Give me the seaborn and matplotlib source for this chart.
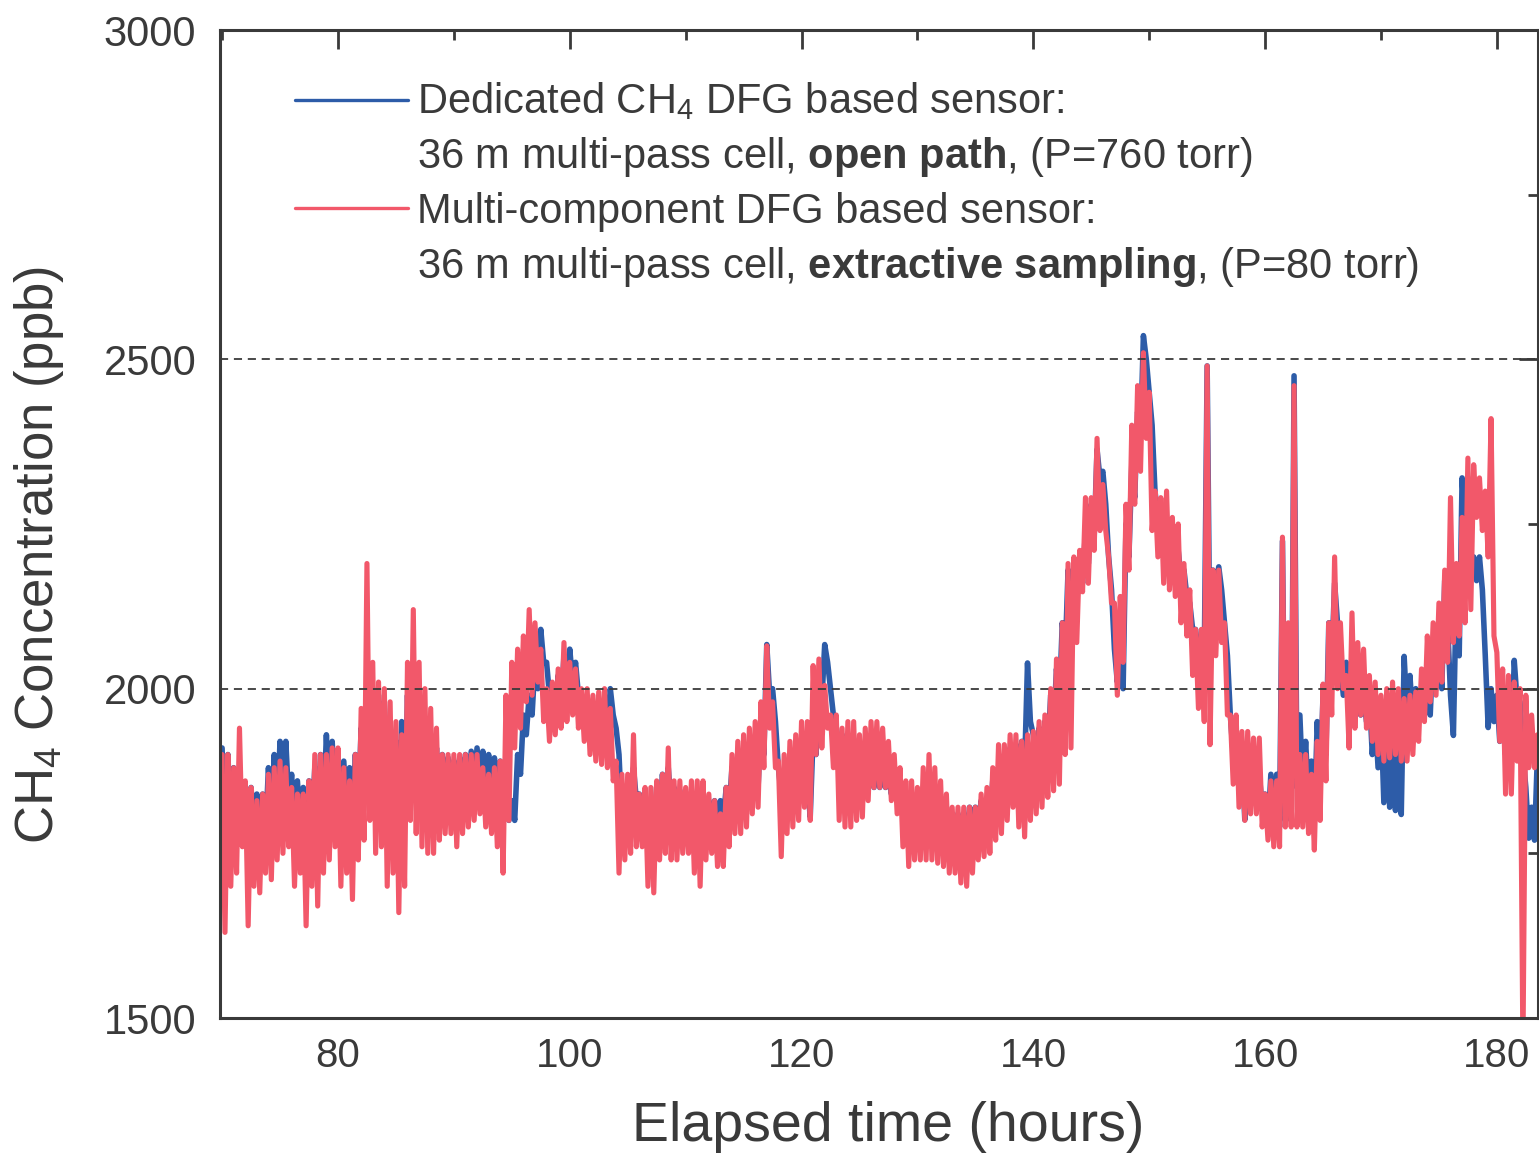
import matplotlib
matplotlib.use("Agg")
import matplotlib.pyplot as plt
from matplotlib.ticker import MultipleLocator
from matplotlib.lines import Line2D
import seaborn as sns
import pandas as pd

# Half-hour sampling slots, 70.0 h ... 183.5 h
hours = [70.0 + 0.5 * i for i in range(228)]

# ---- open-path dedicated CH4 sensor (blue): per-slot high / low readings ----
blue_hi = [1910, 1900, 1880, 1880, 1850, 1850, 1840, 1840, 1880, 1900, 1920, 1920, 1870, 1860,
           1850, 1860, 1880, 1900, 1930, 1920, 1900, 1890, 1880, 1900, 1940, 1980, 2000, 1990,
           1980, 1950, 1920, 1950, 1990, 1980, 1960, 1950, 1930, 1910, 1900, 1895, 1890, 1895,
           1900, 1905, 1910, 1905, 1900, 1895, 1890, 1830, 1830, 1900, 1960, 1990, 2040, 2090,
           2040, 1990, 2020, 2050, 2060, 2040, 1990, 1980, 1970, 1960, 1970, 2000, 1940, 1800,
           1810, 1880, 1840, 1820, 1810, 1850, 1870, 1880, 1850, 1845, 1840, 1840, 1840, 1835,
           1830, 1830, 1830, 1850, 1880, 1880, 1880, 1875, 1870, 1950, 2067, 2000, 1880, 1860,
           1890, 1895, 1900, 1860, 1930, 2000, 2067, 2000, 1940, 1930, 1920, 1910, 1900, 1890,
           1880, 1880, 1880, 1870, 1860, 1845, 1830, 1830, 1830, 1840, 1840, 1835, 1830, 1820,
           1810, 1810, 1810, 1820, 1820, 1830, 1830, 1860, 1880, 1900, 1910, 1915, 1920, 2039,
           1930, 1940, 1950, 1990, 2030, 2100, 2180, 2190, 2200, 2240, 2280, 2363, 2330, 2200,
           2060, 2050, 2250, 2340, 2420, 2536, 2450, 2300, 2260, 2250, 2240, 2210, 2180, 2130,
           2090, 2080, 2490, 2180, 2185, 2100, 1960, 1920, 1900, 1910, 1910, 1870, 1840, 1870,
           1870, 2224, 1850, 2475, 1960, 1920, 1890, 1950, 1990, 2100, 2160, 2040, 2040, 2020,
           2000, 1990, 1990, 1960, 1960, 1950, 1950, 1930, 2049, 2020, 2000, 1990, 1990, 2067,
           2067, 2164, 1990, 2150, 2320, 2320, 2200, 2200, 2050, 2000, 1990, 1990, 1960, 2043,
           1980, 1850, 1820, 1900]
blue_lo = [1760, 1790, 1780, 1790, 1780, 1780, 1770, 1780, 1790, 1810, 1820, 1830, 1790, 1790,
           1780, 1790, 1800, 1810, 1830, 1820, 1800, 1800, 1800, 1810, 1830, 1840, 1850, 1840,
           1830, 1810, 1800, 1810, 1830, 1840, 1850, 1840, 1830, 1820, 1820, 1825, 1830, 1835,
           1840, 1845, 1850, 1845, 1840, 1830, 1810, 1800, 1800, 1870, 1930, 1960, 2000, 2040,
           1990, 1950, 1970, 2000, 2010, 1990, 1950, 1950, 1940, 1930, 1940, 1960, 1900, 1770,
           1780, 1830, 1800, 1780, 1770, 1800, 1810, 1820, 1800, 1800, 1800, 1800, 1800, 1795,
           1790, 1795, 1800, 1815, 1830, 1835, 1840, 1845, 1850, 1900, 1990, 1950, 1840, 1830,
           1850, 1855, 1860, 1805, 1900, 1980, 2040, 1960, 1910, 1900, 1890, 1880, 1870, 1860,
           1850, 1850, 1850, 1840, 1830, 1815, 1800, 1800, 1800, 1810, 1810, 1805, 1800, 1790,
           1780, 1775, 1770, 1780, 1790, 1800, 1800, 1820, 1840, 1860, 1870, 1875, 1880, 1950,
           1880, 1890, 1900, 1940, 1980, 2050, 2120, 2140, 2160, 2190, 2230, 2320, 2280, 2150,
           2010, 2000, 2200, 2290, 2380, 2500, 2400, 2260, 2220, 2210, 2200, 2170, 2140, 2090,
           2050, 2040, 2030, 2150, 2150, 2050, 1900, 1870, 1801, 1840, 1850, 1820, 1790, 1790,
           1790, 1800, 1800, 1850, 1850, 1830, 1800, 1850, 1900, 2040, 2100, 1990, 1990, 1980,
           1960, 1950, 1900, 1880, 1827, 1820, 1815, 1809, 1960, 1950, 1950, 1960, 1960, 2000,
           2000, 2100, 1929, 2050, 2250, 2200, 2164, 2150, 1941, 1950, 1920, 1900, 1900, 1980,
           1900, 1773, 1770, 1770]

# ---- multi-component sensor, extractive sampling (red): per-slot high / low readings ----
red_hi = [1900, 1900, 1880, 1940, 1860, 1850, 1830, 1840, 1870, 1880, 1890, 1880, 1850, 1840,
          1840, 1860, 1900, 1900, 1900, 1910, 1910, 1880, 1860, 1900, 1970, 2190, 2040, 2010,
          2000, 1980, 1950, 1930, 2040, 2120, 2040, 2000, 1970, 1940, 1900, 1900, 1900, 1900,
          1900, 1900, 1900, 1880, 1870, 1880, 1890, 1990, 2040, 2060, 2080, 2120, 2100, 2060,
          2000, 2010, 2030, 2070, 2040, 2030, 2000, 2000, 1990, 1995, 2000, 1970, 1890, 1870,
          1870, 1930, 1840, 1850, 1850, 1860, 1870, 1910, 1860, 1860, 1850, 1860, 1860, 1860,
          1840, 1830, 1810, 1850, 1900, 1920, 1930, 1940, 1950, 1980, 2065, 1980, 1890, 1900,
          1920, 1930, 1950, 1950, 2035, 2045, 2005, 1960, 1960, 1940, 1950, 1950, 1930, 1940,
          1950, 1950, 1940, 1920, 1900, 1880, 1860, 1860, 1850, 1880, 1900, 1880, 1860, 1840,
          1820, 1820, 1820, 1820, 1820, 1840, 1850, 1880, 1915, 1915, 1930, 1930, 1920, 1930,
          1935, 1950, 1960, 2000, 2045, 2100, 2190, 2200, 2210, 2290, 2290, 2380, 2310, 2200,
          2130, 2140, 2280, 2400, 2460, 2510, 2450, 2300, 2290, 2300, 2260, 2250, 2190, 2150,
          2090, 2090, 2490, 2180, 2180, 2100, 1960, 1960, 1935, 1935, 1925, 1925, 1840, 1860,
          1860, 2230, 2100, 2460, 1900, 1900, 1870, 1920, 2007, 2100, 2200, 2100, 2020, 2115,
          2070, 2060, 2020, 2010, 1990, 2000, 2010, 2000, 1985, 1990, 1995, 2030, 2080, 2100,
          2130, 2180, 2290, 2190, 2260, 2350, 2340, 2320, 2300, 2410, 2055, 2030, 2020, 2010,
          2000, 1990, 1960, 1930]
red_lo = [1630, 1700, 1720, 1760, 1640, 1700, 1690, 1720, 1710, 1740, 1750, 1760, 1700, 1720,
          1640, 1700, 1670, 1720, 1740, 1760, 1700, 1720, 1680, 1740, 1770, 1800, 1750, 1760,
          1700, 1720, 1660, 1700, 1800, 1780, 1760, 1750, 1750, 1770, 1780, 1780, 1760, 1780,
          1790, 1800, 1810, 1790, 1780, 1760, 1720, 1800, 1910, 1940, 1980, 1990, 2010, 1950,
          1920, 1930, 1940, 1950, 1960, 1940, 1920, 1900, 1890, 1885, 1880, 1860, 1720, 1740,
          1750, 1760, 1760, 1700, 1690, 1740, 1750, 1740, 1740, 1750, 1750, 1720, 1700, 1740,
          1750, 1730, 1730, 1760, 1780, 1780, 1790, 1810, 1820, 1880, 1940, 1880, 1745, 1780,
          1790, 1800, 1820, 1800, 1900, 1910, 1940, 1880, 1800, 1790, 1790, 1800, 1805, 1830,
          1850, 1850, 1850, 1830, 1810, 1760, 1730, 1740, 1740, 1740, 1740, 1735, 1730, 1720,
          1720, 1705, 1700, 1720, 1740, 1745, 1750, 1770, 1780, 1800, 1820, 1790, 1775, 1800,
          1810, 1820, 1835, 1845, 1855, 1900, 1910, 2070, 2147, 2160, 2210, 2240, 2240, 2130,
          1990, 2040, 2180, 2280, 2330, 2380, 2240, 2200, 2160, 2150, 2140, 2100, 2080, 2020,
          1970, 1950, 1915, 2050, 2070, 1960, 1855, 1820, 1800, 1810, 1810, 1790, 1770, 1760,
          1760, 1790, 1790, 1790, 1790, 1780, 1755, 1800, 1860, 1960, 2000, 2000, 1910, 1940,
          1960, 1940, 1920, 1900, 1890, 1895, 1900, 1890, 1890, 1900, 1920, 1950, 1980, 1990,
          2010, 2040, 2070, 2080, 2100, 2120, 2260, 2240, 2200, 2080, 1920, 1840, 1840, 1890,
          1450, 1880, 1880, 1880]

legend_lines = [
    r"Dedicated CH$_4$ DFG based sensor:",
    r"36 m multi-pass cell, $\mathbf{open\ path}$, (P=760 torr)",
    r"Multi-component DFG based sensor:",
    r"36 m multi-pass cell, $\mathbf{extractive\ sampling}$, (P=80 torr)",
]

BLUE = "#2d5ca8"
RED = "#f2586a"
INK = "#3a3a3a"


def trace(hi, lo):
    """Rapidly fluctuating record: each slot swings from its high to its low reading."""
    t, v = [], []
    for h, a, b in zip(hours, hi, lo):
        t += [h, h + 0.25]
        v += [a, b]
    return pd.DataFrame({"t": t, "ppb": v})


sns.set_style("white")
plt.rcParams["font.family"] = ["Liberation Sans", "DejaVu Sans"]
plt.rcParams["mathtext.fontset"] = "custom"
plt.rcParams["mathtext.rm"] = "Liberation Sans"
plt.rcParams["mathtext.it"] = "Liberation Sans"
plt.rcParams["mathtext.bf"] = "Liberation Sans:bold"

fig = plt.figure(figsize=(15.39, 11.58), dpi=100)
ax = fig.add_axes([220 / 1539, 140 / 1158, 1318 / 1539, 988 / 1158])

sns.lineplot(data=trace(blue_hi, blue_lo), x="t", y="ppb", ax=ax, color=BLUE, lw=4.0,
             estimator=None, sort=False, zorder=2)
sns.lineplot(data=trace(red_hi, red_lo), x="t", y="ppb", ax=ax, color=RED, lw=3.7,
             estimator=None, sort=False, zorder=2.5)

for level in (2000, 2500):
    ax.axhline(level, color=INK, lw=1.3, dashes=(4.5, 3.2), zorder=3)

ax.set_xlim(69.82, 183.55)
ax.set_ylim(1500, 3000)
ax.xaxis.set_major_locator(MultipleLocator(20))
ax.xaxis.set_minor_locator(MultipleLocator(10))
ax.yaxis.set_major_locator(MultipleLocator(500))
ax.yaxis.set_minor_locator(MultipleLocator(250))

for side in ax.spines.values():
    side.set_color(INK)
    side.set_linewidth(2.2)
ax.tick_params(which="both", direction="in", top=True, right=True, colors=INK,
               labelcolor=INK)
ax.tick_params(axis="x", labelsize=29)
ax.tick_params(axis="y", labelsize=30)
ax.tick_params(which="major", length=14, width=2.0)
ax.tick_params(which="minor", length=7, width=2.0)
ax.tick_params(axis="x", which="major", pad=14)
ax.tick_params(axis="y", which="major", pad=17)

ax.set_xlabel("Elapsed time (hours)", fontsize=40, color=INK)
ax.set_ylabel(r"CH$_4$ Concentration (ppb)", fontsize=38, color=INK)
ax.xaxis.set_label_coords(0.507, -0.084)
ax.yaxis.set_label_coords(-0.117, 0.469)

# legend drawn as handle strokes plus text rows
ax.add_line(Line2D([0.0569, 0.1426], [0.929, 0.929], transform=ax.transAxes,
                   color=BLUE, lw=2.4, zorder=4))
ax.add_line(Line2D([0.0569, 0.1426], [0.8198, 0.8198], transform=ax.transAxes,
                   color=RED, lw=2.4, zorder=4))
for text, yb in zip(legend_lines, [0.916, 0.8603, 0.8047, 0.749]):
    ax.text(0.1495, yb, text, transform=ax.transAxes, fontsize=30, color=INK,
            va="baseline", ha="left", zorder=4)

fig.savefig("out.png", dpi=100)
